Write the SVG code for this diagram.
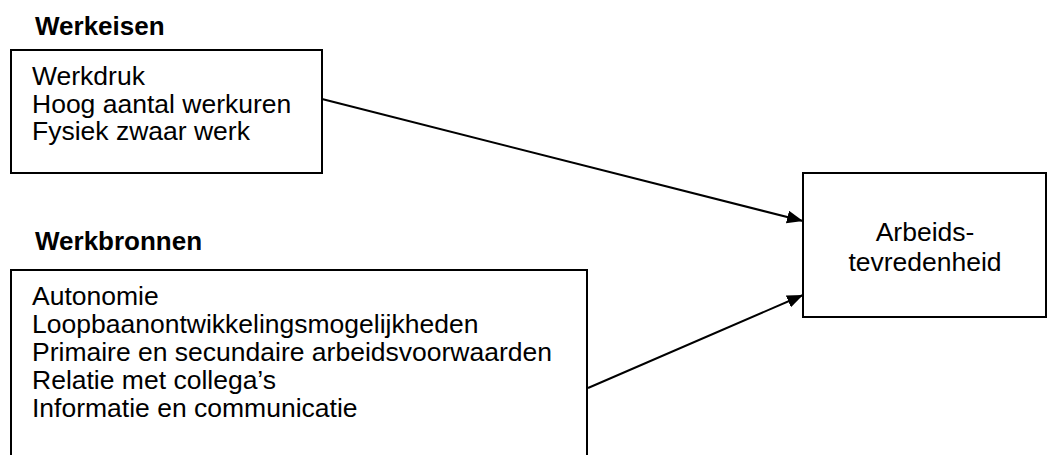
<svg xmlns="http://www.w3.org/2000/svg" width="1057" height="455" viewBox="0 0 1057 455">
  <style>
    .box { fill: #ffffff; stroke: #000000; stroke-width: 2; }
    .txt { font-family: "Liberation Sans", Arial, sans-serif; font-size: 26.5px; fill: #000000; }
    .head { font-family: "Liberation Sans", Arial, sans-serif; font-size: 26px; font-weight: bold; fill: #000000; }
    .link { fill: none; stroke: #000000; stroke-width: 2; }
  </style>
  <defs>
    <marker id="arrow" viewBox="0 0 16 13" refX="16" refY="6.5" markerWidth="16" markerHeight="13" markerUnits="userSpaceOnUse" orient="auto">
      <path d="M0,0 L16,6.5 L0,13 Z" fill="#000000"/>
    </marker>
  </defs>

  <rect width="1057" height="455" fill="#ffffff"/>

  <!-- Job demands -->
  <g id="werkeisen">
    <text class="head" x="35" y="35">Werkeisen</text>
    <rect class="box" x="11" y="50" width="311" height="123"/>
    <text class="txt" x="32" y="85">Werkdruk</text>
    <text class="txt" x="32" y="112.5">Hoog aantal werkuren</text>
    <text class="txt" x="32" y="140">Fysiek zwaar werk</text>
  </g>

  <!-- Job resources (box runs off the bottom edge) -->
  <g id="werkbronnen">
    <text class="head" x="35" y="250">Werkbronnen</text>
    <rect class="box" x="11" y="270" width="576" height="200"/>
    <text class="txt" x="32" y="305">Autonomie</text>
    <text class="txt" x="32" y="333">Loopbaanontwikkelingsmogelijkheden</text>
    <text class="txt" x="32" y="361">Primaire en secundaire arbeidsvoorwaarden</text>
    <text class="txt" x="32" y="389">Relatie met collega’s</text>
    <text class="txt" x="32" y="417">Informatie en communicatie</text>
  </g>

  <!-- Outcome -->
  <g id="arbeidstevredenheid">
    <rect class="box" x="803" y="173" width="243" height="144"/>
    <text class="txt" x="925" y="241" text-anchor="middle">Arbeids-</text>
    <text class="txt" x="925" y="271" text-anchor="middle">tevredenheid</text>
  </g>

  <g id="connectors">
    <line class="link" x1="322" y1="99" x2="803" y2="221" marker-end="url(#arrow)"/>
    <line class="link" x1="588" y1="388" x2="803" y2="295" marker-end="url(#arrow)"/>
  </g>
</svg>
